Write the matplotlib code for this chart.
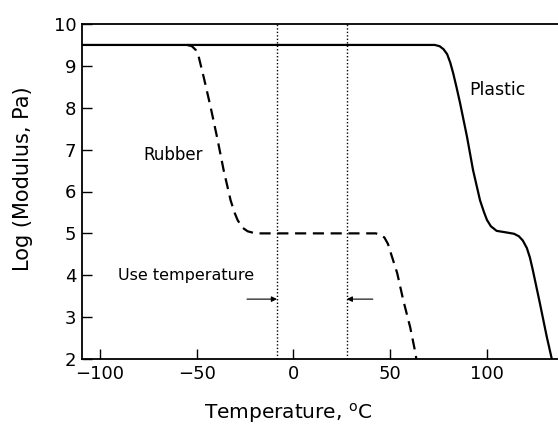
import matplotlib
matplotlib.use("Agg")
import matplotlib.pyplot as plt

# values
plastic_t = [-109.3, 73.0, 75.5, 77.5, 79.4, 81.0, 82.5, 84.3, 86.1, 89.7, 92.8,
             96.4, 98.5, 100.0, 102.0, 105.0, 110.3, 114.0, 116.5, 118.5,
             120.6, 122.2, 123.7, 127.3, 130.9, 133.5]
plastic_logE = [9.5, 9.5, 9.47, 9.4, 9.28, 9.08, 8.83, 8.48, 8.11, 7.3, 6.51,
                5.79, 5.5, 5.32, 5.17, 5.06, 5.02, 4.99, 4.93, 4.83,
                4.65, 4.42, 4.12, 3.34, 2.53, 2.0]

rubber_t = [-55.0, -52.5, -50.5, -49.0, -46.4, -42.8, -39.2, -36.1, -32.5, -30.5,
            -28.9, -26.5, -23.7, -20.5, -18.6, 42.5, 45.0, 47.0, 48.8, 50.5,
            53.6, 56.7, 60.3, 62.9, 63.5]
rubber_logE = [9.5, 9.47, 9.38, 9.22, 8.73, 8.01, 7.23, 6.51, 5.79, 5.5,
               5.32, 5.14, 5.05, 5.01, 5.0, 5.0, 4.97, 4.9, 4.75, 4.5,
               4.05, 3.41, 2.76, 2.17, 2.0]

use_low, use_high = -8.5, 27.5
arrow_y = 3.43

xticks = [-100, -50, 0, 50, 100]
yticks = [2, 3, 4, 5, 6, 7, 8, 9, 10]

fig = plt.figure(figsize=(5.58, 4.30), dpi=100)
ax = fig.add_axes([82 / 558, 1 - 359 / 430, 1 - 82 / 558, (359 - 24) / 430])

ax.plot(plastic_t, plastic_logE, color="black", lw=1.6)
ax.plot(rubber_t, rubber_logE, color="black", lw=1.6, dashes=(5, 3))

ax.axvline(use_low, color="black", lw=1.0, ls=(0, (1, 1.5)))
ax.axvline(use_high, color="black", lw=1.0, ls=(0, (1, 1.5)))

ax.annotate("", xy=(use_low, arrow_y), xytext=(-24, arrow_y),
            arrowprops=dict(arrowstyle="-|>", color="black", lw=0.8,
                            mutation_scale=8, shrinkA=0, shrinkB=0))
ax.annotate("", xy=(use_high, arrow_y), xytext=(41, arrow_y),
            arrowprops=dict(arrowstyle="-|>", color="black", lw=0.8,
                            mutation_scale=8, shrinkA=0, shrinkB=0))

ax.text(-55.5, 4.0, "Use temperature", fontsize=11.5, ha="center", va="center")
ax.text(-62, 6.87, "Rubber", fontsize=12, ha="center", va="center")
ax.text(90.7, 8.42, "Plastic", fontsize=12.5, ha="left", va="center")

ax.set_xlim(-109.3, 136.7)
ax.set_ylim(2, 10)
ax.set_xticks(xticks)
ax.set_yticks(yticks)
ax.tick_params(direction="in", length=7, width=1, labelsize=13, pad=4)
ax.spines["right"].set_visible(False)
for s in ["left", "bottom", "top"]:
    ax.spines[s].set_linewidth(1.3)

ax.set_xlabel("Temperature, $^{\\mathrm{o}}$C", fontsize=14.5)
ax.xaxis.set_label_coords((288 - 82) / (558 - 82), -0.125)
ax.set_ylabel("Log (Modulus, Pa)", fontsize=15)
ax.yaxis.set_label_coords((33 - 82) / (558 - 82), (359 - 179) / 335)

fig.savefig("out.png", dpi=100)
